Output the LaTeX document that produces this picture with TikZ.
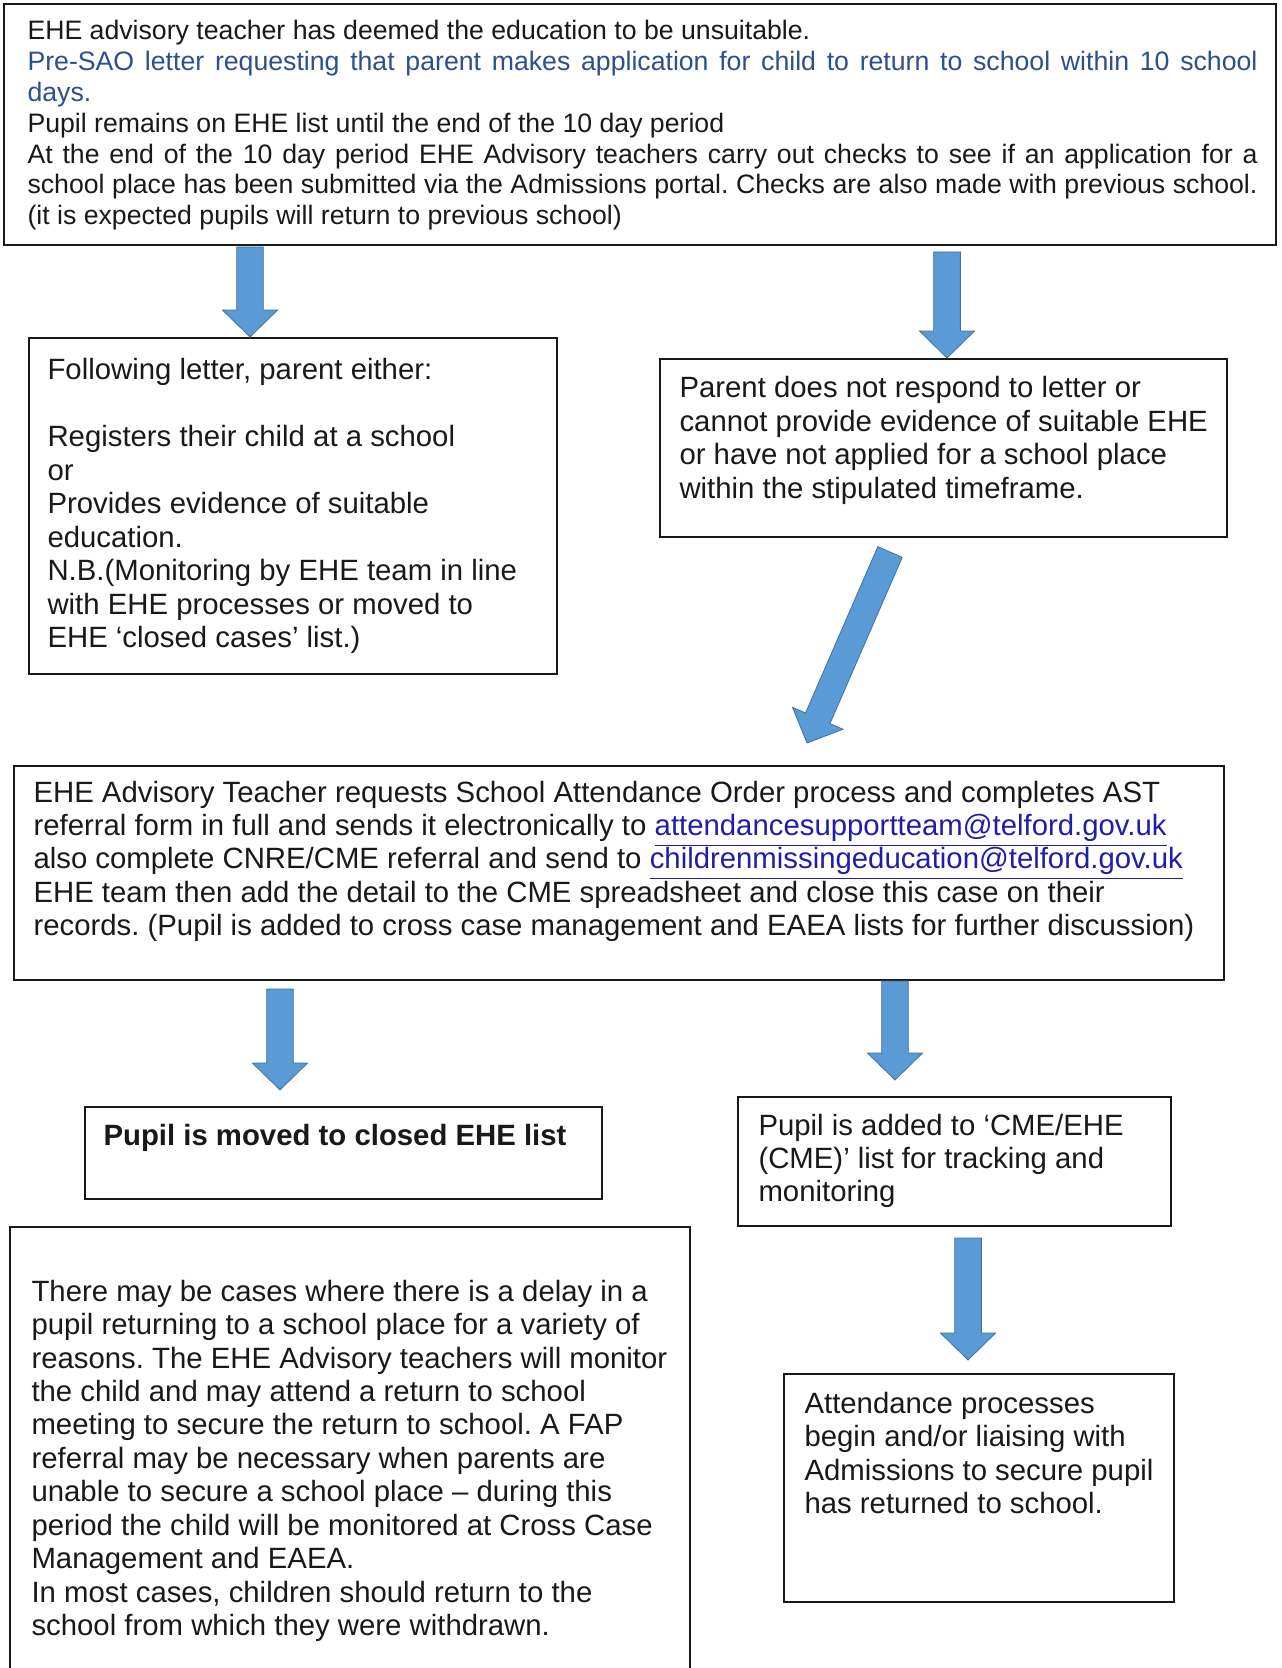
\documentclass[tikz,border=0pt]{standalone}
\usepackage{fontspec}
\setmainfont{Liberation Sans}
\usetikzlibrary{calc,fit}
\frenchspacing
\definecolor{arrowblue}{RGB}{91,155,213}
\definecolor{arrowedge}{RGB}{65,113,156}
\definecolor{saoblue}{RGB}{45,80,140}
\definecolor{linkblue}{RGB}{30,30,170}
\definecolor{inkgrey}{RGB}{25,25,25}
\newcommand\bluearrow[2]{%
  \path (#2) coordinate (tmpE) ($(#2)!10.1pt!(#1)$) coordinate (tmpH);
  \draw[barrow] ($(#1)!5pt!90:(#2)$) -- ($(tmpH)!5pt!-90:(#1)$) -- ($(tmpH)!10.3pt!-90:(#1)$)
     -- (tmpE) -- ($(tmpH)!10.3pt!90:(#1)$) -- ($(tmpH)!5pt!90:(#1)$) -- ($(#1)!5pt!-90:(#2)$) -- cycle;
}
\newcommand\elink[1]{\textcolor{linkblue}{\underline{#1}}}
\begin{document}
\begin{tikzpicture}[x=0.375pt,y=-0.375pt,
  frame/.style={draw=inkgrey, line width=0.8pt, inner sep=0pt},
  txt/.style={anchor=base west, inner sep=0pt, text=inkgrey, font=\fontsize{11}{12.56}\selectfont},
  smalltxt/.style={txt, font=\fontsize{10}{11.55}\selectfont},
  barrow/.style={fill=arrowblue, draw=arrowedge, line width=0.3pt, line join=miter}]

\path[use as bounding box, fill=white] (0,0) rectangle (1281,1668);

% ---- boxes ----
\node[frame, fit={(4,4) (1276,245)}] (top) {};
\node[frame, fit={(29,338) (557,674)}] (left) {};
\node[frame, fit={(660,359) (1227,537)}] (right) {};
\node[frame, fit={(14,766) (1224,980)}] (mid) {};
\node[frame, fit={(85,1107) (602,1199)}] (closed) {};
\node[frame, fit={(738,1097) (1171,1226)}] (cme) {};
\node[frame, fit={(10,1227) (690,1700)}] (delay) {};
\node[frame, fit={(784,1374) (1174,1602)}] (attend) {};

% ---- texts ----
\node[smalltxt] (toptext) at (27,40) {\parbox[t]{461.25pt}{%
EHE advisory teacher has deemed the education to be unsuitable.\\
\textcolor{saoblue}{\makebox[\linewidth][s]{Pre-SAO letter requesting that parent makes application for child to return to school within 10 school}}\\
\textcolor{saoblue}{days.}\\
Pupil remains on EHE list until the end of the 10 day period\\
\makebox[\linewidth][s]{At the end of the 10 day period EHE Advisory teachers carry out checks to see if an application for a}\\
\makebox[\linewidth][s]{school place has been submitted via the Admissions portal. Checks are also made with previous school.}\\
(it is expected pupils will return to previous school)}};

\node[txt] (lefttext) at (47,380) {\parbox[t]{195pt}{%
Following letter, parent either:\\[12.56pt]
Registers their child at a school\\
or\\
Provides evidence of suitable\\
education.\\
N.B.(Monitoring by EHE team in line\\
with EHE processes or moved to\\
EHE ‘closed cases’ list.)}};

\node[txt] (righttext) at (679,398) {\parbox[t]{210pt}{%
Parent does not respond to letter or\\
cannot provide evidence of suitable EHE\\
or have not applied for a school place\\
within the stipulated timeframe.}};

\node[txt] (midtext) at (33,802) {\parbox[t]{450pt}{%
EHE Advisory Teacher requests School Attendance Order process and completes AST\\
referral form in full and sends it electronically to \elink{attendancesupportteam@telford.gov.uk}\\
also complete CNRE/CME referral and send to \elink{childrenmissingeducation@telford.gov.uk}\\
EHE team then add the detail to the CME spreadsheet and close this case on their\\
records. (Pupil is added to cross case management and EAEA lists for further discussion)}};

\node[txt] (closedtext) at (103,1145) {\textbf{Pupil is moved to closed EHE list}};

\node[txt] (cmetext) at (758,1135) {\parbox[t]{160pt}{%
Pupil is added to ‘CME/EHE\\
(CME)’ list for tracking and\\
monitoring}};

\node[txt] (delaytext) at (31,1301) {\parbox[t]{250pt}{%
There may be cases where there is a delay in a\\
pupil returning to a school place for a variety of\\
reasons. The EHE Advisory teachers will monitor\\
the child and may attend a return to school\\
meeting to secure the return to school. A FAP\\
referral may be necessary when parents are\\
unable to secure a school place – during this\\
period the child will be monitored at Cross Case\\
Management and EAEA.\\
In most cases, children should return to the\\
school from which they were withdrawn.}};

\node[txt] (attendtext) at (804,1413) {\parbox[t]{145pt}{%
Attendance processes\\
begin and/or liaising with\\
Admissions to secure pupil\\
has returned to school.}};

% ---- arrow end points ----
\coordinate (a1s) at (250,247);  \coordinate (a1e) at (250,337);
\coordinate (a2s) at (947,252);  \coordinate (a2e) at (947,358);
\coordinate (a3s) at (890,552);  \coordinate (a3e) at (807,743);
\coordinate (a4s) at (280,989);  \coordinate (a4e) at (280,1090);
\coordinate (a5s) at (895,981);  \coordinate (a5e) at (895,1080);
\coordinate (a6s) at (968,1238); \coordinate (a6e) at (968,1360);

\bluearrow{a1s}{a1e}
\bluearrow{a2s}{a2e}
\bluearrow{a3s}{a3e}
\bluearrow{a4s}{a4e}
\bluearrow{a5s}{a5e}
\bluearrow{a6s}{a6e}
\end{tikzpicture}
\end{document}
